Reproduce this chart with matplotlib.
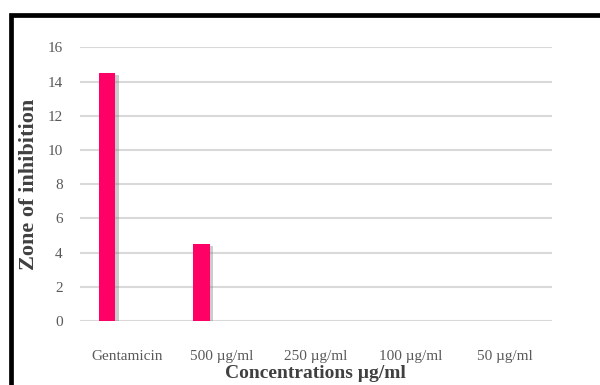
import matplotlib
matplotlib.use("Agg")
import matplotlib.pyplot as plt
import matplotlib.patheffects as pe
from matplotlib.patches import Rectangle
import numpy as np

categories = ["Gentamicin", "500 µg/ml", "250 µg/ml", "100 µg/ml", "50 µg/ml"]
zone_values = [14.5, 4.5, 0, 0, 0]
y_ticks = [0, 2, 4, 6, 8, 10, 12, 14, 16]

plt.rcParams["font.family"] = ["Liberation Serif", "DejaVu Serif"]

fig = plt.figure(figsize=(6.0, 3.85), dpi=100)
ax = fig.add_axes([0.1325, 0.1662, 0.7875, 0.7109])

x = np.arange(len(categories))
bar_width = 0.174
bar_offset = -0.21
bars = ax.bar(x + bar_offset, zone_values, width=bar_width, color="#FF0066",
              zorder=3)
for b in bars:
    b.set_path_effects([pe.SimplePatchShadow(offset=(2.5, -1.5),
                                             shadow_rgbFace="#808080",
                                             alpha=0.4),
                        pe.Normal()])

ax.set_xlim(-0.5, len(categories) - 0.5)
ax.set_ylim(0, 16)
ax.set_yticks(y_ticks)
ax.set_xticks(x)
ax.set_xticklabels(categories)
ax.grid(axis="y", color="#d9d9d9", linewidth=1.5, zorder=0)
ax.set_axisbelow(True)
for s in ax.spines.values():
    s.set_visible(False)
ax.tick_params(axis="both", length=0, labelsize=11, colors="#595959")
ax.tick_params(axis="x", pad=21)
ax.tick_params(axis="y", pad=12)

ax.set_xlabel("Concentrations µg/ml", fontsize=14, fontweight="bold",
              color="#404040", labelpad=1)
ax.set_ylabel("Zone of inhibition", fontsize=16, fontweight="bold",
              color="#404040", labelpad=6)

# frame drawn around the figure
fig.patches.append(Rectangle((11 / 600, -0.2), 1.3, 1.2 - 14.5 / 385,
                             transform=fig.transFigure, fill=False,
                             edgecolor="black", linewidth=3.4, clip_on=False))

fig.savefig("out.png", dpi=100)
